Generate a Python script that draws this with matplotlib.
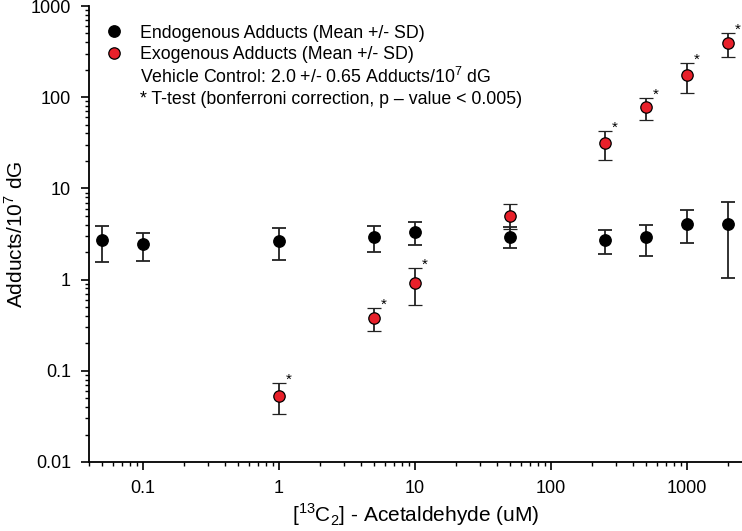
import numpy as np
import matplotlib.pyplot as plt
from matplotlib.lines import Line2D

plt.rcParams['font.family'] = ['Liberation Sans', 'DejaVu Sans']
plt.rcParams['mathtext.fontset'] = 'custom'
plt.rcParams['mathtext.rm'] = 'Liberation Sans'

# endogenous adducts
endo_x = [0.05, 0.1, 1, 5, 10, 50, 250, 500, 1000, 2000]
endo_y = [2.72, 2.46, 2.65, 2.93, 3.3, 2.95, 2.7, 2.9, 4.1, 4.1]
endo_hi = [3.87, 3.25, 3.68, 3.87, 4.3, 3.8, 3.5, 4.0, 5.8, 7.1]
endo_lo = [1.56, 1.6, 1.64, 2.0, 2.4, 2.2, 1.9, 1.8, 2.5, 1.05]

# exogenous adducts
exo_x = [1, 5, 10, 50, 250, 500, 1000, 2000]
exo_y = [0.053, 0.38, 0.92, 5.0, 31.5, 78, 173, 390]
exo_hi = [0.074, 0.49, 1.35, 6.8, 43, 98, 237, 505]
exo_lo = [0.034, 0.27, 0.52, 3.6, 20.5, 56, 112, 277]
exo_sig = [True, True, True, False, True, True, True, True]

fig = plt.figure(figsize=(7.42, 5.31), dpi=100)
ax = fig.add_axes([0.12, 0.13, 0.88, 0.8587])

ey = np.array(endo_y)
ax.errorbar(endo_x, endo_y, yerr=[ey - np.array(endo_lo), np.array(endo_hi) - ey],
            fmt='o', color='black', ms=8.2, mec='black', ecolor='#222222',
            elinewidth=1.3, capsize=5, capthick=1.3, zorder=3)
xy = np.array(exo_y)
ax.errorbar(exo_x, exo_y, yerr=[xy - np.array(exo_lo), np.array(exo_hi) - xy],
            fmt='o', color='#e8202a', ms=8.2, mec='black', mew=0.9, ecolor='#222222',
            elinewidth=1.3, capsize=5, capthick=1.3, zorder=3)
for x, h, s in zip(exo_x, exo_hi, exo_sig):
    if s:
        ax.annotate('*', (x, h), xytext=(5, -3), textcoords='offset points',
                    fontsize=11, ha='left', va='bottom')

ax.set_xscale('log')
ax.set_yscale('log')
ax.set_xlim(0.04, 2540)
ax.set_ylim(0.01, 1000)
ax.set_xticks([0.1, 1, 10, 100, 1000])
ax.set_xticklabels(['0.1', '1', '10', '100', '1000'])
ax.set_yticks([0.01, 0.1, 1, 10, 100, 1000])
ax.set_yticklabels(['0.01', '0.1', '1', '10', '100', '1000'])
for s in ['left', 'bottom']:
    ax.spines[s].set_linewidth(1.3)
ax.spines['top'].set_visible(False)
ax.spines['right'].set_visible(False)
ax.tick_params(which='major', direction='out', length=6, width=1.2, labelsize=13, pad=7)
ax.tick_params(which='minor', direction='out', length=3, width=1)
ax.set_xlabel(r'[$^{13}$C$_2$] - Acetaldehyde (uM)', fontsize=15, labelpad=3)
ax.set_ylabel(r'Adducts/10$^7$ dG', fontsize=15, labelpad=3)

handles = [
    Line2D([], [], marker='o', ls='none', color='black', ms=8.2),
    Line2D([], [], marker='o', ls='none', color='#e8202a', mec='black', mew=0.9, ms=8.2),
    Line2D([], [], ls='none'),
    Line2D([], [], ls='none'),
]
labels = ['Endogenous Adducts (Mean +/- SD)', 'Exogenous Adducts (Mean +/- SD)',
          r'Vehicle Control: 2.0 +/- 0.65 Adducts/10$^7$ dG',
          '* T-test (bonferroni correction, p \u2013 value < 0.005)']
ax.legend(handles, labels, loc='upper left', bbox_to_anchor=(0.005, 0.975),
          frameon=False, fontsize=12.8, handletextpad=0.7, handlelength=1.6,
          labelspacing=0.24, borderaxespad=0)

fig.savefig('out.png', dpi=100)
